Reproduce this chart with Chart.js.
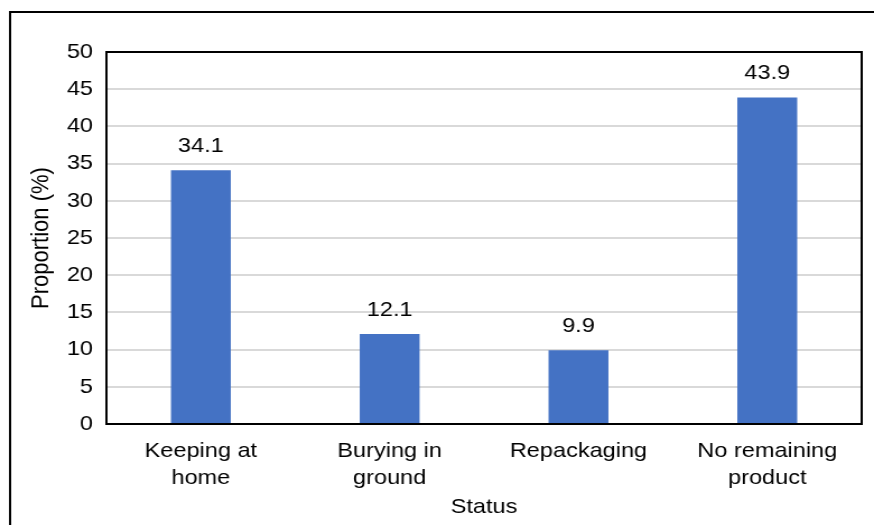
<!DOCTYPE html>
<html>
<head>
<meta charset="utf-8">
<script src="https://cdn.jsdelivr.net/npm/chart.js@4/dist/chart.umd.min.js"></script>
<style>
  html, body { margin: 0; padding: 0; background: #fff; overflow: hidden; }
  #wrap { width: 874px; height: 525px; overflow: hidden; }
  /* chart is laid out a bit narrower and stretched wide */
  #statusChart { width: 780px; height: 525px; transform: scaleX(1.1205); transform-origin: 0 0; }
</style>
</head>
<body>
<div id="wrap"><canvas id="statusChart" width="780" height="525"></canvas></div>
<script>
// data
var categories = [["Keeping at", "home"], ["Burying in", "ground"], "Repackaging", ["No remaining", "product"]];
var proportions = [34.1, 12.1, 9.9, 43.9];
var yTicks = [0, 5, 10, 15, 20, 25, 30, 35, 40, 45, 50];

var FONT = "'Liberation Sans', Arial, sans-serif";
var FS = 21;

// outer frame + box round the plot area + value labels over the bars
var framePlugin = {
    id: "frame",
    afterDraw: function (chart) {
        var ctx = chart.ctx;
        var a = chart.chartArea;
        ctx.save();
        ctx.strokeStyle = "#000";
        ctx.lineWidth = 2;
        ctx.strokeRect(9, 12, 800, 540);
        ctx.strokeRect(a.left, a.top, a.right - a.left, a.bottom - a.top);

        ctx.fillStyle = "#000";
        ctx.font = FS + "px " + FONT;
        ctx.textAlign = "center";
        ctx.textBaseline = "alphabetic";
        var meta = chart.getDatasetMeta(0);
        meta.data.forEach(function (bar, i) {
            ctx.fillText(proportions[i].toFixed(1), bar.x, bar.y - 18);
        });
        ctx.restore();
    }
};

var ctx = document.getElementById("statusChart").getContext("2d");
var chart = new Chart(ctx, {
    type: "bar",
    data: {
        labels: categories,
        datasets: [{
            data: proportions,
            backgroundColor: "#4472c4",
            borderWidth: 0,
            categoryPercentage: 1.0,
            barPercentage: 0.317
        }]
    },
    options: {
        responsive: false,
        animation: false,
        layout: { padding: { top: 52, right: 11, left: 24, bottom: 0 } },
        plugins: {
            legend: { display: false },
            tooltip: { enabled: false }
        },
        scales: {
            x: {
                grid: { display: false, drawTicks: false },
                border: { display: false },
                ticks: {
                    color: "#000",
                    font: { family: FONT, size: FS, lineHeight: 1.29 },
                    padding: 14,
                    maxRotation: 0,
                    autoSkip: false
                },
                title: {
                    display: true,
                    text: "Status",
                    color: "#000",
                    font: { family: FONT, size: FS },
                    padding: { top: 0, bottom: 5 }
                },
                afterFit: function (scale) { scale.height = 101; }
            },
            y: {
                min: 0,
                max: 50,
                afterBuildTicks: function (scale) {
                    scale.ticks = yTicks.map(function (v) { return { value: v }; });
                },
                grid: { color: "#d9d9d9", lineWidth: 2, drawTicks: false },
                border: { display: false },
                ticks: {
                    color: "#000",
                    font: { family: FONT, size: FS },
                    padding: 12
                },
                title: {
                    display: true,
                    text: "Proportion (%)",
                    color: "#000",
                    font: { family: FONT, size: 22 },
                    padding: { top: 0, bottom: 0 }
                },
                afterFit: function (scale) { scale.width = 71; }
            }
        }
    },
    plugins: [framePlugin]
});
</script>
</body>
</html>
